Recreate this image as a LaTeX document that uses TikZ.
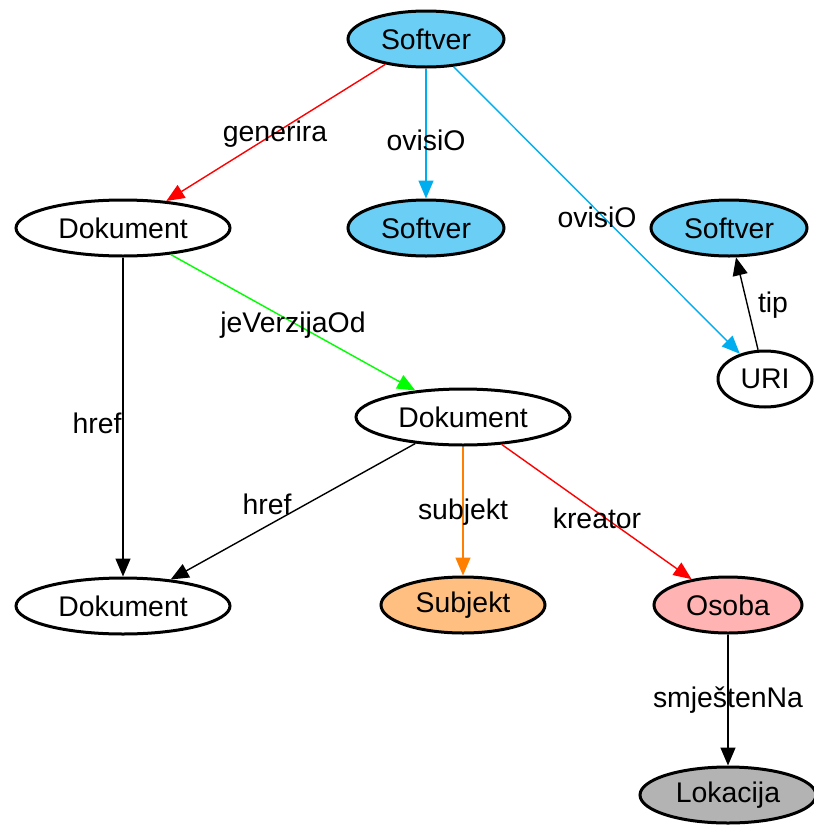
\documentclass[tikz,border=0pt]{standalone}
\usepackage{fontspec}
\setmainfont{Liberation Sans}
\usetikzlibrary{arrows.meta}
\usetikzlibrary{shapes.geometric}

\definecolor{skyfill}{HTML}{6ACEF5}
\definecolor{skyline}{HTML}{00AEEF}
\definecolor{peach}{HTML}{FFBF80}
\definecolor{rose}{HTML}{FFB3B3}
\definecolor{stone}{HTML}{B3B3B3}
\definecolor{orangeline}{HTML}{FF8000}

\begin{document}
\begin{tikzpicture}[x=0.5pt, y=-0.5pt,
	every node/.style={font=\fontsize{14.2pt}{17pt}\selectfont},
	ent/.style={ellipse, draw, line width=1.5pt, inner sep=0pt, minimum height=28pt},
	lbl/.style={inner sep=0pt},
	rel/.style={line width=0.7pt, -{Triangle[length=9pt,width=7.5pt]}}]

	% fix the page to the size of the picture
	\useasboundingbox (0,0) rectangle (814,825);

	% the entities
	\node[ent, fill=skyfill, minimum width=78pt] (swTop) at (426,39) {Softver};
	\node[ent, fill=skyfill, minimum width=78pt] (swMid) at (426,228) {Softver};
	\node[ent, fill=skyfill, minimum width=78pt] (swRight) at (729,228) {Softver};
	\node[ent, minimum width=47pt] (uri) at (765,379) {URI};
	\node[ent, minimum width=107pt] (docTop) at (123,228) {Dokument};
	\node[ent, minimum width=107pt] (docMid) at (463,417) {Dokument};
	\node[ent, minimum width=107pt] (docBot) at (123,606) {Dokument};
	\node[ent, fill=peach, minimum width=82pt] (subj) at (463,605) {Subjekt};
	\node[ent, fill=rose, minimum width=74pt] (osoba) at (728,605) {Osoba};
	\node[ent, fill=stone, minimum width=88pt] (lok) at (728,795) {Lokacija};

	% the relations
	\draw[rel, red] (swTop) -- (docTop);
	\draw[rel, skyline] (swTop) -- (swMid);
	\draw[rel, skyline] (swTop) -- (uri);
	\draw[rel] (uri) -- (swRight);
	\draw[rel, green] (docTop) -- (docMid);
	\draw[rel] (docTop) -- (docBot);
	\draw[rel] (docMid) -- (docBot);
	\draw[rel, orangeline] (docMid) -- (subj);
	\draw[rel, red] (docMid) -- (osoba);
	\draw[rel] (osoba) -- (lok);

	% labels of the relations
	\node[lbl] (lGenerira) at (275,134) {generira};
	\node[lbl] (lOvisiMid) at (426,140) {ovisiO};
	\node[lbl] (lOvisiUri) at (597,217) {ovisiO};
	\node[lbl] (lTip) at (773,305) {tip};
	\node[lbl] (lVerzija) at (293,325) {jeVerzijaOd};
	\node[lbl] (lHrefTop) at (97,423) {href};
	\node[lbl] (lHrefMid) at (267,504) {href};
	\node[lbl] (lSubjekt) at (463,512) {subjekt};
	\node[lbl] (lKreator) at (597,518) {kreator};
	\node[lbl] (lSmjesten) at (728,700) {smještenNa};

\end{tikzpicture}
\end{document}
